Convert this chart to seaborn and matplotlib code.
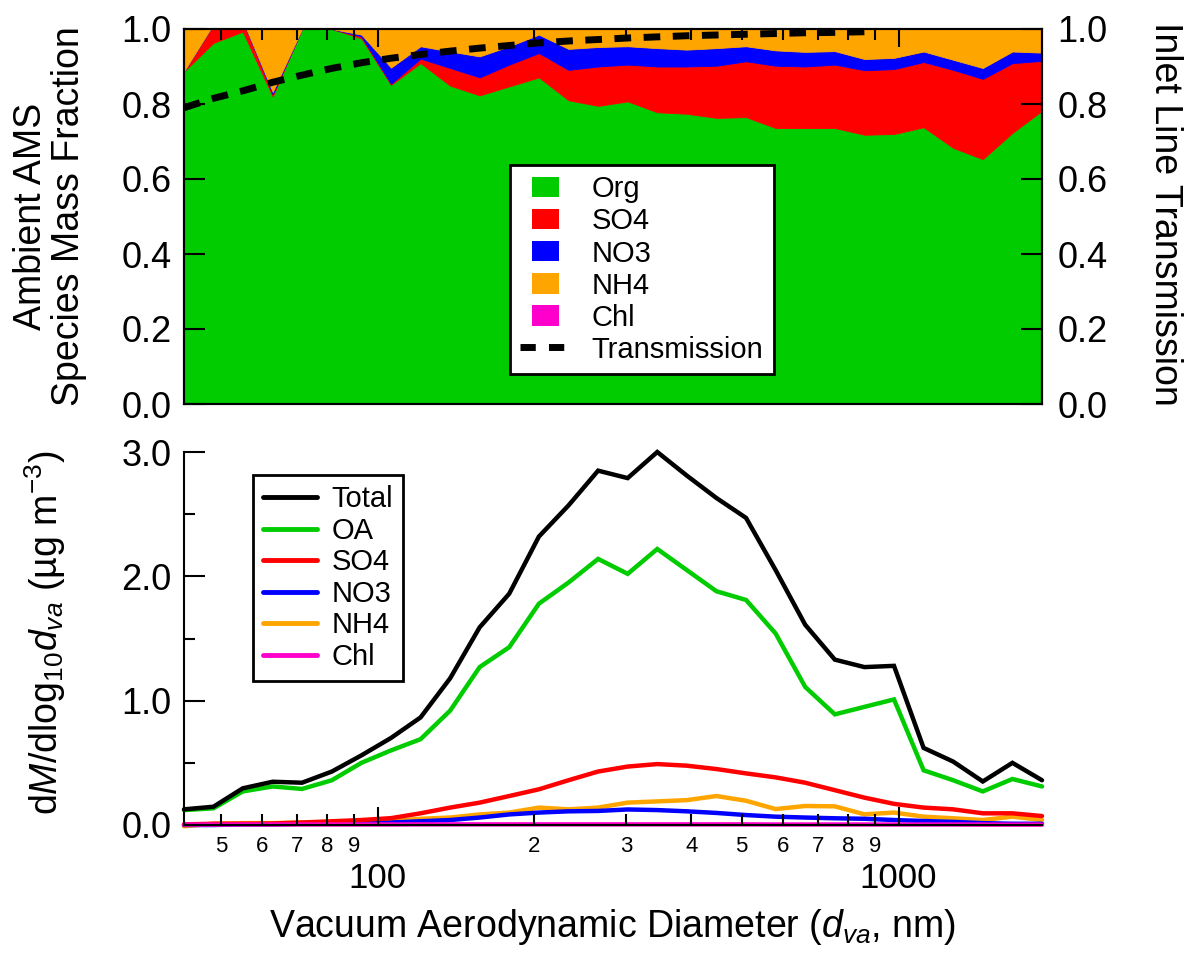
import matplotlib
matplotlib.use("Agg")
import numpy as np
import pandas as pd
import seaborn as sns
import matplotlib.pyplot as plt
from matplotlib.lines import Line2D
from matplotlib.patches import Patch, Rectangle
from matplotlib.legend_handler import HandlerPatch
from matplotlib.ticker import FixedLocator, FixedFormatter, FormatStrFormatter, NullFormatter

# ---------------- data ----------------
diam = [42.5, 48.4, 55.1, 62.9, 71.6, 81.7, 93.1, 106.1, 120.9, 137.8,
        157.0, 178.9, 204.0, 232.5, 265.0, 302.0, 344.2, 392.3, 447.1, 509.6,
        580.8, 662.0, 754.5, 859.9, 980.0, 1117, 1273, 1451, 1654, 1885]

# mass fractions (top panel)
frac_org = [0.887, 0.963, 0.993, 0.820, 1.000, 1.000, 0.975, 0.851, 0.909, 0.849,
            0.823, 0.847, 0.871, 0.810, 0.795, 0.807, 0.778, 0.774, 0.763, 0.765,
            0.736, 0.736, 0.736, 0.718, 0.720, 0.738, 0.683, 0.653, 0.723, 0.782]
frac_so4 = [0.000, 0.050, 0.030, 0.006, 0.000, 0.000, 0.005, 0.003, 0.012, 0.047,
            0.048, 0.058, 0.065, 0.081, 0.105, 0.098, 0.122, 0.126, 0.139, 0.149,
            0.166, 0.164, 0.169, 0.172, 0.173, 0.174, 0.208, 0.214, 0.186, 0.133]
frac_no3 = [0.000, 0.000, 0.000, 0.006, 0.000, 0.000, 0.005, 0.043, 0.033, 0.044,
            0.056, 0.049, 0.049, 0.056, 0.052, 0.049, 0.049, 0.045, 0.047, 0.040,
            0.041, 0.039, 0.036, 0.030, 0.030, 0.028, 0.027, 0.029, 0.031, 0.022]
frac_nh4 = [0.113, 0.000, 0.000, 0.168, 0.000, 0.000, 0.015, 0.104, 0.046, 0.060,
            0.073, 0.046, 0.015, 0.053, 0.048, 0.046, 0.051, 0.055, 0.051, 0.046,
            0.057, 0.061, 0.059, 0.080, 0.077, 0.060, 0.082, 0.104, 0.060, 0.063]
frac_chl = [0.000, 0.000, 0.000, 0.000, 0.000, 0.000, 0.000, 0.000, 0.000, 0.000,
            0.000, 0.000, 0.000, 0.000, 0.000, 0.000, 0.000, 0.000, 0.000, 0.000,
            0.000, 0.000, 0.000, 0.000, 0.000, 0.000, 0.000, 0.000, 0.000, 0.000]

# inlet transmission
trans_d = [42.5, 48.4, 55.1, 62.9, 71.6, 81.7, 93.1, 106.1, 120.9, 137.8,
           157.0, 178.9, 204.0, 232.5, 265.0, 302.0, 344.2, 392.3, 447.1, 509.6,
           580.8, 662.0, 754.5, 880.0]
trans = [0.790, 0.815, 0.835, 0.858, 0.877, 0.895, 0.910, 0.922, 0.932, 0.941,
         0.949, 0.956, 0.963, 0.968, 0.972, 0.976, 0.979, 0.982, 0.984, 0.986,
         0.988, 0.990, 0.991, 0.993]

# size distributions (bottom panel)
dist_total = [0.126, 0.147, 0.295, 0.348, 0.340, 0.430, 0.560, 0.700, 0.865, 1.180,
              1.590, 1.860, 2.320, 2.570, 2.850, 2.790, 3.000, 2.810, 2.630, 2.470,
              2.050, 1.610, 1.330, 1.270, 1.280, 0.620, 0.510, 0.350, 0.500, 0.360]
dist_oa = [0.120, 0.134, 0.270, 0.310, 0.290, 0.360, 0.500, 0.600, 0.690, 0.920,
           1.270, 1.430, 1.780, 1.950, 2.140, 2.020, 2.220, 2.050, 1.880, 1.810,
           1.540, 1.110, 0.890, 0.950, 1.010, 0.440, 0.360, 0.270, 0.370, 0.310]
dist_so4 = [0.005, 0.010, 0.010, 0.012, 0.020, 0.030, 0.040, 0.055, 0.094, 0.140,
            0.180, 0.233, 0.287, 0.360, 0.430, 0.470, 0.490, 0.477, 0.450, 0.415,
            0.383, 0.340, 0.280, 0.220, 0.170, 0.140, 0.126, 0.094, 0.094, 0.072]
dist_no3 = [0.000, 0.000, 0.005, 0.005, 0.010, 0.010, 0.015, 0.020, 0.030, 0.040,
            0.060, 0.085, 0.100, 0.110, 0.113, 0.125, 0.120, 0.110, 0.097, 0.080,
            0.067, 0.060, 0.054, 0.050, 0.040, 0.032, 0.025, 0.015, 0.010, 0.010]
dist_nh4 = [-0.010, 0.010, 0.015, 0.015, 0.020, 0.020, 0.025, 0.030, 0.050, 0.060,
            0.085, 0.100, 0.140, 0.126, 0.140, 0.180, 0.190, 0.200, 0.233, 0.195,
            0.128, 0.153, 0.150, 0.086, 0.100, 0.067, 0.054, 0.040, 0.067, 0.040]
dist_chl = [0.003, 0.003, 0.004, 0.004, 0.004, 0.004, 0.004, 0.004, 0.005, 0.005,
            0.005, 0.005, 0.005, 0.005, 0.005, 0.005, 0.005, 0.005, 0.005, 0.005,
            0.004, 0.004, 0.004, 0.004, 0.004, 0.004, 0.004, 0.003, 0.003, 0.003]

frac_labels = ["Org", "SO4", "NO3", "NH4", "Chl"]
dist_labels = ["Total", "OA", "SO4", "NO3", "NH4", "Chl"]
colors = {"Org": "#00CC00", "OA": "#00CC00", "SO4": "#FF0000", "NO3": "#0000FF",
          "NH4": "#FFA500", "Chl": "#FF00CC", "Total": "#000000"}

minor_ticks = [50, 60, 70, 80, 90, 200, 300, 400, 500, 600, 700, 800, 900]
minor_labels = ["5", "6", "7", "8", "9", "2", "3", "4", "5", "6", "7", "8", "9"]
major_ticks = [100, 1000]
major_labels = ["100", "1000"]

# ---------------- style ----------------
sns.set_theme(style="ticks")
plt.rcParams["font.family"] = ["Liberation Sans", "DejaVu Sans"]
plt.rcParams["mathtext.fontset"] = "custom"
plt.rcParams["mathtext.rm"] = "Liberation Sans"
plt.rcParams["mathtext.it"] = "Liberation Sans:italic"
plt.rcParams["axes.linewidth"] = 1.5
plt.rcParams["xtick.direction"] = "in"
plt.rcParams["ytick.direction"] = "in"
plt.rcParams["text.color"] = "black"
plt.rcParams["axes.labelcolor"] = "black"
plt.rcParams["axes.edgecolor"] = "black"
plt.rcParams["xtick.color"] = "black"
plt.rcParams["ytick.color"] = "black"
plt.rcParams["axes.axisbelow"] = False

fig = plt.figure(figsize=(11.9, 9.6), dpi=100)
W, H = 1190.0, 960.0
ax1 = fig.add_axes([184 / W, 1 - 404 / H, 858 / W, 375 / H])
ax3 = fig.add_axes([184 / W, 1 - 825 / H, 858 / W, 373 / H])

XMIN, XMAX = 42.5, 1885

# ---------------- top panel ----------------
ax1.set_xscale("log")
ax1.set_axisbelow(False)
ax1.stackplot(diam, frac_org, frac_so4, frac_no3, frac_nh4, frac_chl,
              colors=[colors[k] for k in frac_labels], edgecolor="face", linewidth=0.6)
ax1.set_xlim(XMIN, XMAX)
ax1.set_ylim(0, 1.0)
ax1.xaxis.set_major_locator(FixedLocator(major_ticks))
ax1.xaxis.set_minor_locator(FixedLocator(minor_ticks))
ax1.xaxis.set_major_formatter(NullFormatter())
ax1.xaxis.set_minor_formatter(NullFormatter())
ax1.tick_params(axis="x", which="both", top=True, bottom=False, labeltop=False,
                labelbottom=False, width=1.5, color="black")
ax1.tick_params(axis="x", which="major", length=13)
ax1.tick_params(axis="x", which="minor", length=8)
ax1.yaxis.set_major_locator(FixedLocator([0, 0.2, 0.4, 0.6, 0.8, 1.0]))
ax1.yaxis.set_major_formatter(FormatStrFormatter("%.1f"))
ax1.tick_params(axis="y", which="major", left=True, right=False, length=15, width=1.5,
                labelsize=26, pad=9, color="black", labelcolor="black")
for s in ax1.spines.values():
    s.set_color("black")
    s.set_linewidth(1.5)

ax2 = ax1.twinx()
sns.lineplot(x=trans_d, y=trans, ax=ax2, color="black", linewidth=5, estimator=None)
ax2.lines[0].set_linestyle((0, (2.4, 1.8)))
ax2.lines[0].set_dash_capstyle("butt")
ax2.set_xscale("log")
ax2.set_xlim(XMIN, XMAX)
ax2.set_ylim(0, 1.0)
ax2.yaxis.set_major_locator(FixedLocator([0, 0.2, 0.4, 0.6, 0.8, 1.0]))
ax2.yaxis.set_major_formatter(FormatStrFormatter("%.1f"))
ax2.tick_params(axis="y", which="major", right=True, length=15, width=1.5,
                labelsize=26, pad=11, color="black", labelcolor="black")
ax2.set_ylabel("")
for s in ax2.spines.values():
    s.set_color("black")
    s.set_linewidth(1.5)


class SmallRect(HandlerPatch):
    def create_artists(self, legend, orig_handle, xdescent, ydescent, width, height,
                       fontsize, trans):
        w = width * 0.62
        h = height * 0.95
        x0 = -xdescent + (width - w) / 2 + width * 0.08
        y0 = -ydescent + (height - h) / 2
        p = Rectangle((x0, y0), w, h, facecolor=orig_handle.get_facecolor(),
                      edgecolor="none", transform=trans)
        return [p]


top_handles = [Patch(facecolor=colors[k]) for k in frac_labels]
top_handles.append(Line2D([0], [0], color="black", linewidth=5,
                          linestyle=(0, (2.2, 1.9)), dash_capstyle="butt"))
leg1 = ax2.legend(top_handles, frac_labels + ["Transmission"], loc="upper left",
                  bbox_to_anchor=(0.38, 0.637), borderaxespad=0, fontsize=21,
                  frameon=True, fancybox=False, edgecolor="black", framealpha=1,
                  handlelength=1.5, handleheight=0.75, handletextpad=0.95,
                  labelspacing=0.14, borderpad=0.35,
                  handler_map={Patch: SmallRect()})
leg1.get_frame().set_linewidth(2)

fig.text(50 / W, 1 - 216 / H, "Ambient AMS\nSpecies Mass Fraction", rotation=90,
         ha="center", va="center", multialignment="center", fontsize=27,
         linespacing=1.05, color="black")
fig.text(1165 / W, 1 - 214 / H, "Inlet Line Transmission", rotation=270,
         ha="center", va="center", fontsize=27, color="black")

# ---------------- bottom panel ----------------
ax3.set_xscale("log")
rows = []
series = {"Total": dist_total, "OA": dist_oa, "SO4": dist_so4, "NO3": dist_no3,
          "NH4": dist_nh4, "Chl": dist_chl}
for name, vals in series.items():
    for d, v in zip(diam, vals):
        rows.append({"d": d, "v": v, "species": name})
df = pd.DataFrame(rows)
draw_order = ["NH4", "NO3", "SO4", "OA", "Total", "Chl"]
sns.lineplot(data=df, x="d", y="v", hue="species", hue_order=draw_order,
             palette=colors, linewidth=3.2, estimator=None, ax=ax3, legend=False)
for ln in ax3.lines:
    ln.set_clip_on(False)
    ln.set_solid_joinstyle("miter")

ax3.set_xlim(XMIN, XMAX)
ax3.set_ylim(0, 3.0)
ax3.spines["top"].set_visible(False)
ax3.spines["right"].set_visible(False)
for s in ["left", "bottom"]:
    ax3.spines[s].set_color("black")
    ax3.spines[s].set_linewidth(1.5)
ax3.xaxis.set_major_locator(FixedLocator(major_ticks))
ax3.xaxis.set_major_formatter(FixedFormatter(major_labels))
ax3.xaxis.set_minor_locator(FixedLocator(minor_ticks))
ax3.xaxis.set_minor_formatter(FixedFormatter(minor_labels))
ax3.tick_params(axis="x", which="major", length=13, width=1.5, labelsize=25, pad=27,
                color="black", labelcolor="black", bottom=True)
ax3.tick_params(axis="x", which="minor", length=8, width=1.5, labelsize=16, pad=8,
                color="black", labelcolor="black", bottom=True)
ax3.yaxis.set_major_locator(FixedLocator([0, 1, 2, 3]))
ax3.yaxis.set_major_formatter(FormatStrFormatter("%.1f"))
ax3.yaxis.set_minor_locator(FixedLocator([0.5, 1.5, 2.5]))
ax3.tick_params(axis="y", which="major", length=15, width=1.5, labelsize=26, pad=9,
                color="black", labelcolor="black", left=True)
ax3.tick_params(axis="y", which="minor", length=8, width=1.5, color="black", left=True)
ax3.set_xlabel(r"Vacuum Aerodynamic Diameter ($\mathit{d}_{\mathit{va}}$, nm)",
               fontsize=27, labelpad=8, color="black")
ax3.set_ylabel("")

bot_handles = [Line2D([0], [0], color=colors[k], linewidth=3.5) for k in dist_labels]
leg2 = ax3.legend(bot_handles, dist_labels, loc="upper left",
                  bbox_to_anchor=(0.08, 0.938), borderaxespad=0, fontsize=21,
                  frameon=True, fancybox=False, edgecolor="black", framealpha=1,
                  handlelength=1.85, handletextpad=0.5, labelspacing=0.12,
                  borderpad=0.35)
leg2.get_frame().set_linewidth(2)

fig.text(45 / W, 1 - 633 / H,
         r"d$\mathit{M}$/dlog$_{10}$$\mathit{d}_{\mathit{va}}$ (µg m$^{-3}$)",
         rotation=90, ha="center", va="center", fontsize=27, color="black")

fig.savefig("out.png", dpi=100)
